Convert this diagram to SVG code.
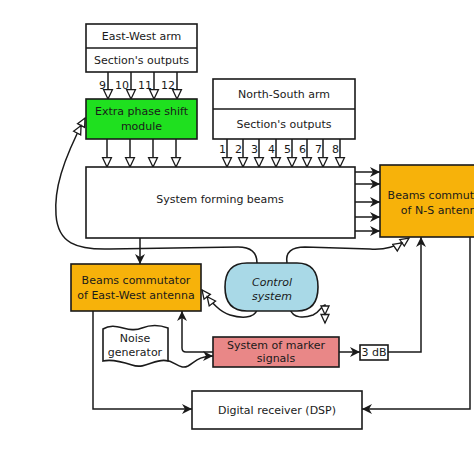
<svg xmlns="http://www.w3.org/2000/svg" width="474" height="474" viewBox="0 0 474 474">
<style>
  .box{stroke:#1a1a1a;stroke-width:1.6;}
  .t{font-family:"DejaVu Sans","Liberation Sans",sans-serif;font-size:11px;fill:#1a1a1a;text-anchor:middle;}
  .n{font-family:"DejaVu Sans","Liberation Sans",sans-serif;font-size:11px;fill:#1a1a1a;text-anchor:end;}
  .it{font-family:"DejaVu Serif","Liberation Serif",serif;font-style:italic;font-size:11px;fill:#1a1a1a;text-anchor:middle;}
  .ln{fill:none;stroke:#1a1a1a;stroke-width:1.5;}
  .fa{marker-end:url(#fa);}
  .oa{marker-end:url(#oa);}
  .da{marker-end:url(#da);}
</style>
<defs>
  <marker id="fa" markerUnits="userSpaceOnUse" markerWidth="12" markerHeight="12" refX="10" refY="5" orient="auto" viewBox="0 0 12 10">
    <path d="M0,0 L10,5 L0,10 L3,5 Z" fill="#1a1a1a"/>
  </marker>
  <marker id="oa" markerUnits="userSpaceOnUse" markerWidth="12" markerHeight="12" refX="9.5" refY="5" orient="auto" viewBox="-1 -1 12 12">
    <path d="M0,0.5 L9.5,5 L0,9.5 Z" fill="#fff" stroke="#1a1a1a" stroke-width="1.3"/>
  </marker>
  <marker id="da" markerUnits="userSpaceOnUse" markerWidth="20" markerHeight="12" refX="17" refY="5" orient="auto" viewBox="-1 -1 20 12">
    <path d="M0,1 L8.5,5 L0,9 Z M8.5,1 L17,5 L8.5,9 Z" fill="#fff" stroke="#1a1a1a" stroke-width="1.3"/>
  </marker>
</defs>
<rect width="474" height="474" fill="#fff"/>

<g id="connectors">
  <!-- EW section outputs 9-12 -->
  <path class="ln oa" d="M108,72 V99"/>
  <path class="ln oa" d="M131,72 V99"/>
  <path class="ln oa" d="M154,72 V99"/>
  <path class="ln oa" d="M177,72 V99"/>
  <!-- green module to SFB -->
  <path class="ln oa" d="M107,139 V167"/>
  <path class="ln oa" d="M130,139 V167"/>
  <path class="ln oa" d="M153,139 V167"/>
  <path class="ln oa" d="M176,139 V167"/>
  <!-- NS outputs 1-8 -->
  <path class="ln oa" d="M227,139 V167"/>
  <path class="ln oa" d="M243,139 V167"/>
  <path class="ln oa" d="M259,139 V167"/>
  <path class="ln oa" d="M276,139 V167"/>
  <path class="ln oa" d="M292,139 V167"/>
  <path class="ln oa" d="M307,139 V167"/>
  <path class="ln oa" d="M323,139 V167"/>
  <path class="ln oa" d="M340,139 V167"/>
  <!-- SFB beams 1-5 to NS commutator -->
  <path class="ln fa" d="M355,172 H380"/>
  <path class="ln fa" d="M355,184 H380"/>
  <path class="ln fa" d="M355,202 H380"/>
  <path class="ln fa" d="M355,217 H380"/>
  <path class="ln fa" d="M355,231 H380"/>
  <!-- SFB to EW commutator -->
  <path class="ln fa" d="M140,238 V264"/>
  <!-- control to green module -->
  <path class="ln da" d="M257,263 C257,252 250,247 238,247 L110,249 C76,250 58,243 56,215 C54,190 62,162 85,118"/>
  <!-- control to NS commutator -->
  <path class="ln da" d="M287,263 C285,252 292,247 305,247 L370,249 C385,250 396,247 409,238"/>
  <!-- control to EW commutator -->
  <path class="ln da" d="M257,310 C254,319 240,318 230,315 C220,312 212,303 202,290"/>
  <!-- control down -->
  <path class="ln da" d="M290,309 C293,319 305,318 313,315 C320,312 322,305 325,305 L325,323"/>
  <!-- marker to EW commutator -->
  <path class="ln fa" d="M213,352 H186 Q182,352 182,348 V311"/>
  <!-- noise to marker -->
  <path class="ln fa" d="M166,360 C176,362 180,370 188,366 C195,362 199,356 213,356"/>
  <!-- marker to 3dB -->
  <path class="ln fa" d="M339,352 H360"/>
  <!-- 3dB to NS commutator -->
  <path class="ln fa" d="M388,352 H421 V237"/>
  <!-- EW commutator to DSP -->
  <path class="ln fa" d="M93,311 V409 H192"/>
  <!-- NS commutator to DSP -->
  <path class="ln fa" d="M470,237 V409 H362"/>
</g>

<g id="labels">
  <text class="n" x="106" y="89">9</text>
  <text class="n" x="129" y="89">10</text>
  <text class="n" x="152" y="89">11</text>
  <text class="n" x="175" y="89">12</text>
  <text class="n" x="226" y="153">1</text>
  <text class="n" x="242" y="153">2</text>
  <text class="n" x="258" y="153">3</text>
  <text class="n" x="275" y="153">4</text>
  <text class="n" x="291" y="153">5</text>
  <text class="n" x="306" y="153">6</text>
  <text class="n" x="322" y="153">7</text>
  <text class="n" x="339" y="153">8</text>
  <text class="it" x="349" y="177">1</text>
  <text class="it" x="348" y="191">2</text>
  <text class="it" x="348" y="206">3</text>
  <text class="it" x="348" y="221">4</text>
  <text class="it" x="349" y="235">5</text>
</g>

<g id="ew-arm">
  <rect class="box" x="86" y="24" width="111" height="48" fill="#fff"/>
  <line class="box" x1="86" y1="48" x2="197" y2="48"/>
  <text class="t" x="141.5" y="40">East-West arm</text>
  <text class="t" x="141.5" y="64">Section's outputs</text>
</g>

<g id="phase-shift">
  <rect class="box" x="86" y="99" width="111" height="40" fill="#1fe01f"/>
  <text class="t" x="141.5" y="115" fill="#0d2d00">Extra phase shift</text>
  <text class="t" x="141.5" y="130" fill="#0d2d00">module</text>
</g>

<g id="ns-arm">
  <rect class="box" x="213" y="79" width="142" height="60" fill="#fff"/>
  <line class="box" x1="213" y1="109" x2="355" y2="109"/>
  <text class="t" x="284" y="98">North-South arm</text>
  <text class="t" x="284" y="128">Section's outputs</text>
</g>

<g id="forming-beams">
  <rect class="box" x="86" y="167" width="269" height="71" fill="#fff"/>
  <text class="t" x="220" y="203">System forming beams</text>
</g>

<g id="ns-commutator">
  <rect class="box" x="380" y="165" width="130" height="72" fill="#f7b20a"/>
  <text class="t" x="442" y="199">Beams commutator</text>
  <text class="t" x="442" y="214">of N-S antenna</text>
</g>

<g id="ew-commutator">
  <rect class="box" x="71" y="264" width="130" height="47" fill="#f7b20a"/>
  <text class="t" x="136" y="284">Beams commutator</text>
  <text class="t" x="136" y="299">of East-West antenna</text>
</g>

<g id="control-system">
  <path class="box" d="M247,263 L297,263 C312,263 318,272 318,287 C318,302 312,311 297,311 L247,311 C232,311 225,302 225,287 C225,272 232,263 247,263 Z" fill="#a9d9e7"/>
  <text class="t" x="272" y="286" font-style="italic">Control</text>
  <text class="t" x="272" y="300" font-style="italic">system</text>
</g>

<g id="noise-generator">
  <path class="box" d="M103,329 C116,321 128,334 142,328 C152,324 160,325 168,328 L168,361 C156,357 146,370 132,365 C120,361 111,359 103,361 Z" fill="#fff"/>
  <text class="t" x="135" y="342">Noise</text>
  <text class="t" x="135" y="356">generator</text>
</g>

<g id="marker-signals">
  <rect class="box" x="213" y="337" width="126" height="30" fill="#e98787"/>
  <text class="t" x="276" y="349" fill="#2b0808">System of marker</text>
  <text class="t" x="276" y="362" fill="#2b0808">signals</text>
</g>

<g id="attenuator">
  <rect class="box" x="360" y="345" width="28" height="15" fill="#fff"/>
  <text class="t" x="374" y="356" font-size="10">3 dB</text>
</g>

<g id="dsp">
  <rect class="box" x="192" y="391" width="170" height="38" fill="#fff"/>
  <text class="t" x="277" y="414">Digital receiver (DSP)</text>
</g>
</svg>
